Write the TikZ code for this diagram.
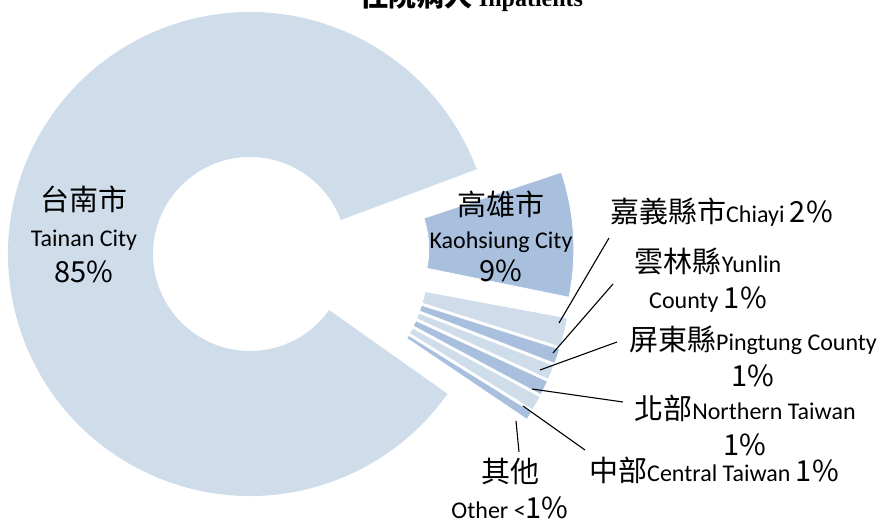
\documentclass[tikz,border=0pt]{standalone}
\usepackage{fontspec}
\setmainfont{Carlito}
\newfontfamily\cjk{Noto Sans CJK TC}
\newfontfamily\titlefont{Liberation Serif}
\definecolor{ringlight}{RGB}{207,221,235}
\definecolor{ringmid}{RGB}{168,192,221}
\newcommand{\zh}[1]{{\cjk\fontsize{29}{36}\selectfont #1}}
% piece of the ring: start angle, end angle, pulled out to, colour
\newcommand{\ringpart}[4]{%
  \fill[#4, draw=white, line width=0.8pt, shift={#3}]
    (#1:97) -- (#1:242) arc[start angle=#1, end angle=#2, radius=242]
    -- (#2:97) arc[start angle=#2, end angle=#1, radius=97] -- cycle;}
\tikzset{lbl/.style={align=center, inner sep=0pt, font=\fontsize{24}{36}\selectfont},
	leader/.style={black, line width=1.1pt}}

\begin{document}
\begin{tikzpicture}[x=1pt,y=1pt]
	\useasboundingbox (0,0) rectangle (881,525);
	
	\node[anchor=base, font=\titlefont\bfseries\fontsize{24}{28}\selectfont] (title) at (472,518)
		{{\cjk\bfseries\fontsize{28}{28}\selectfont 住院病人} Inpatients};
	
	\begin{scope}[shift={(250,271)}]
		% Tainan stays in place
		\fill[ringlight] (20.5:97) -- (20.5:242) arc[start angle=20.5, end angle=324.7, radius=242]
			-- (324.7:97) arc[start angle=324.7, end angle=20.5, radius=97] -- cycle;
		
		\ringpart{18.5}{-11.5}{(3.5:82)}{ringmid}
		\ringpart{-10.5}{-17.6}{(-14:82)}{ringlight}
		\ringpart{-17.6}{-21.2}{(-15.5:82)}{ringmid}
		\ringpart{-21.2}{-24.75}{(-17:82)}{ringlight}
		\ringpart{-24.75}{-28.3}{(-18.5:82)}{ringmid}
		\ringpart{-28.3}{-31.9}{(-20:82)}{ringlight}
		\ringpart{-31.9}{-34}{(-21.5:82)}{ringmid}
	\end{scope}
	
	\node[lbl, font=\fontsize{24}{36}\selectfont] (tainan) at (84,291) {\zh{台南市}\\Tainan City\\\zh{85\%}};
	\node[lbl, font=\fontsize{24}{33}\selectfont] (kaohsiung) at (501,289) {\zh{高雄市}\\Kaohsiung City\\\zh{9\%}};
	
	\node[lbl, anchor=west] (chiayi) at (610,313) {\zh{嘉義縣市}Chiayi \zh{2\%}};
	\node[lbl] (yunlin) at (708,245) {\zh{雲林縣}Yunlin\\County \zh{1\%}};
	\node[lbl] (pingtung) at (753,169) {\zh{屏東縣}Pingtung County\\\zh{1\%}};
	\node[lbl] (north) at (745,100) {\zh{北部}Northern Taiwan\\\zh{1\%}};
	\node[lbl] (central) at (714,55) {\zh{中部}Central Taiwan \zh{1\%}};
	\node[lbl] (other) at (510,36) {\zh{其他}\\Other <\zh{1\%}};
	
	\coordinate (chiayi-a) at (559,202);   \coordinate (chiayi-b) at (609,287);
	\coordinate (yunlin-a) at (553,172);   \coordinate (yunlin-b) at (613,241);
	\coordinate (pingtung-a) at (540,155); \coordinate (pingtung-b) at (617,183);
	\coordinate (north-a) at (532,136);    \coordinate (north-b) at (623,123);
	\coordinate (central-a) at (523,119);  \coordinate (central-b) at (585,75);
	\coordinate (other-a) at (516,104);    \coordinate (other-b) at (519,73);
	
	\draw[leader] (chiayi-a) -- (chiayi-b);
	\draw[leader] (yunlin-a) -- (yunlin-b);
	\draw[leader] (pingtung-a) -- (pingtung-b);
	\draw[leader] (north-a) -- (north-b);
	\draw[leader] (central-a) -- (central-b);
	\draw[leader] (other-a) -- (other-b);
\end{tikzpicture}
\end{document}
